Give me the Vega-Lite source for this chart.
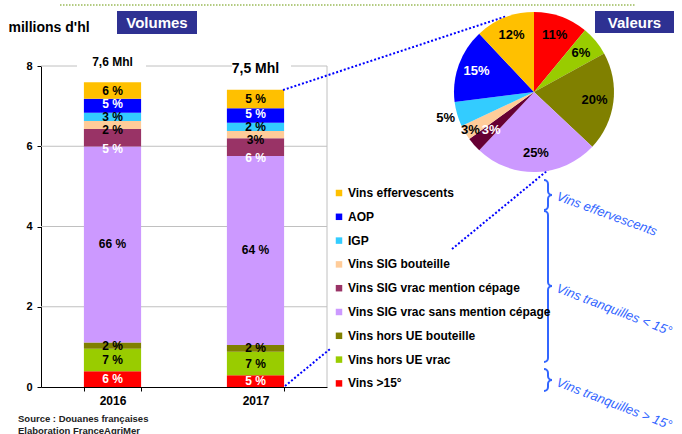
{
"$schema": "https://vega.github.io/schema/vega-lite/v6.json",
"width": 286, "height": 321,
"autosize": {"type": "none"},
"padding": {"left": 41, "top": 66, "right": 355, "bottom": 47},
"background": "white",
"config": {"font": "Liberation Sans", "view": {"stroke": null}},
"datasets": {
"vol": [
{"year":"2016","cat":"Vins >15°","rank":1,"value":0.39,"lab":"6 %"},
{"year":"2016","cat":"Vins hors UE vrac","rank":2,"value":0.565,"lab":"7 %"},
{"year":"2016","cat":"Vins hors UE bouteille","rank":3,"value":0.157,"lab":"2 %"},
{"year":"2016","cat":"Vins SIG vrac sans mention cépage","rank":4,"value":4.88,"lab":"66 %"},
{"year":"2016","cat":"Vins SIG vrac mention cépage","rank":5,"value":0.44,"lab":"5 %"},
{"year":"2016","cat":"Vins SIG bouteille","rank":6,"value":0.2,"lab":"2 %"},
{"year":"2016","cat":"IGP","rank":7,"value":0.2,"lab":"3 %"},
{"year":"2016","cat":"AOP","rank":8,"value":0.35,"lab":"5 %"},
{"year":"2016","cat":"Vins effervescents","rank":9,"value":0.41,"lab":"6 %"},
{"year":"2017","cat":"Vins >15°","rank":1,"value":0.29,"lab":"5 %"},
{"year":"2017","cat":"Vins hors UE vrac","rank":2,"value":0.59,"lab":"7 %"},
{"year":"2017","cat":"Vins hors UE bouteille","rank":3,"value":0.167,"lab":"2 %"},
{"year":"2017","cat":"Vins SIG vrac sans mention cépage","rank":4,"value":4.71,"lab":"64 %"},
{"year":"2017","cat":"Vins SIG vrac mention cépage","rank":5,"value":0.44,"lab":"6 %"},
{"year":"2017","cat":"Vins SIG bouteille","rank":6,"value":0.18,"lab":"3%"},
{"year":"2017","cat":"IGP","rank":7,"value":0.21,"lab":"2 %"},
{"year":"2017","cat":"AOP","rank":8,"value":0.36,"lab":"5 %"},
{"year":"2017","cat":"Vins effervescents","rank":9,"value":0.46,"lab":"5 %"}
],
"val": [
{"cat":"Vins >15°","rank":1,"value":11,"lab":"11%"},
{"cat":"Vins hors UE vrac","rank":2,"value":6,"lab":"6%"},
{"cat":"Vins hors UE bouteille","rank":3,"value":20,"lab":"20%"},
{"cat":"Vins SIG vrac sans mention cépage","rank":4,"value":25,"lab":"25%"},
{"cat":"Vins SIG vrac mention cépage","rank":5,"value":3,"lab":"3%"},
{"cat":"Vins SIG bouteille","rank":6,"value":3,"lab":"3%"},
{"cat":"IGP","rank":7,"value":5,"lab":"5%"},
{"cat":"AOP","rank":8,"value":15,"lab":"15%"},
{"cat":"Vins effervescents","rank":9,"value":12,"lab":"12%"}
]
},
"data": {"values": [{}]},
"resolve": {"scale": {"x": "independent", "y": "independent", "color": "independent", "theta": "independent"}},
"layer": [
{
"layer": [
{"mark": {"type": "rule", "color": "#c0c0c0", "strokeWidth": 1},
 "encoding": {"y": {"datum": 2, "type": "quantitative"}}},
{"mark": {"type": "rule", "color": "#c0c0c0", "strokeWidth": 1},
 "encoding": {"y": {"datum": 4, "type": "quantitative"}}},
{"mark": {"type": "rule", "color": "#c0c0c0", "strokeWidth": 1},
 "encoding": {"y": {"datum": 6, "type": "quantitative"}}},
{"data": {"name": "vol"}, "mark": {"type": "bar"},
 "encoding": {
  "x": {"field": "year", "type": "nominal", "scale": {"paddingInner": 0.6, "paddingOuter": 0.3},
        "axis": {"title": null, "labelAngle": 0, "labelFontSize": 12, "labelFontWeight": "bold", "labelColor": "#000", "labelPadding": 4, "domainColor": "#000", "tickColor": "#000", "tickSize": 4, "tickBand": "extent", "grid": false}},
  "y": {"field": "value", "type": "quantitative", "stack": "zero", "scale": {"domain": [0, 8], "nice": false},
        "axis": {"values": [0, 2, 4, 6, 8], "grid": false, "domainColor": "#000", "tickColor": "#000", "tickSize": 4, "labelFontSize": 11, "labelFontWeight": "bold", "labelColor": "#000", "labelPadding": 5,
                 "title": "millions d'hl", "titleAngle": 0, "titleAlign": "left", "titleBaseline": "middle", "titleX": -33, "titleY": -39, "titleFontSize": 14, "titleFontWeight": "bold", "titleColor": "#000"}},
  "color": {"field": "cat", "type": "nominal",
            "scale": {"domain": ["Vins effervescents","AOP","IGP","Vins SIG bouteille","Vins SIG vrac mention cépage","Vins SIG vrac sans mention cépage","Vins hors UE bouteille","Vins hors UE vrac","Vins >15°"],
                      "range": ["#FFC000","#0000FF","#33CCFF","#FFCC99","#993366","#CC99FF","#808000","#99CC00","#FF0000"]},
            "legend": {"orient": "none", "legendX": 292, "legendY": 121, "title": null, "symbolType": "square", "symbolSize": 42, "symbolStrokeWidth": 0, "symbolOpacity": 1, "labelFontSize": 12, "labelFontWeight": "bold", "labelColor": "#000", "labelLimit": 300, "labelOffset": 3, "rowPadding": 11.8, "padding": 0}},
  "order": {"field": "rank", "type": "quantitative"}
 }},
{"data": {"name": "vol"}, "mark": {"type": "text", "fontSize": 12, "fontWeight": "bold"},
 "encoding": {
  "x": {"field": "year", "type": "nominal"},
  "y": {"field": "value", "type": "quantitative", "stack": "zero", "bandPosition": 0.5},
  "detail": {"field": "cat"},
  "order": {"field": "rank", "type": "quantitative"},
  "text": {"condition": {"test": "datum.rank == 5 || datum.rank == 6 || datum.rank == 8", "value": ""}, "field": "lab"},
  "color": {"condition": {"test": "datum.rank == 1", "value": "white"}, "value": "black"}
 }},
{"data": {"name": "vol"}, "mark": {"type": "text", "fontSize": 12, "fontWeight": "bold", "dy": 5},
 "encoding": {
  "x": {"field": "year", "type": "nominal"},
  "y": {"field": "value", "type": "quantitative", "stack": "zero", "bandPosition": 0.5},
  "detail": {"field": "cat"},
  "order": {"field": "rank", "type": "quantitative"},
  "text": {"condition": {"test": "datum.rank != 6", "value": ""}, "field": "lab"},
  "color": {"value": "black"}
 }},
{"data": {"name": "vol"}, "mark": {"type": "text", "fontSize": 12, "fontWeight": "bold", "dy": 11},
 "encoding": {
  "x": {"field": "year", "type": "nominal"},
  "y": {"field": "value", "type": "quantitative", "stack": "zero", "bandPosition": 0.5},
  "detail": {"field": "cat"},
  "order": {"field": "rank", "type": "quantitative"},
  "text": {"condition": {"test": "datum.rank != 5", "value": ""}, "field": "lab"},
  "color": {"value": "white"}
 }},
{"data": {"name": "vol"}, "mark": {"type": "text", "fontSize": 12, "fontWeight": "bold", "dy": -1.5},
 "encoding": {
  "x": {"field": "year", "type": "nominal"},
  "y": {"field": "value", "type": "quantitative", "stack": "zero", "bandPosition": 0.5},
  "detail": {"field": "cat"},
  "order": {"field": "rank", "type": "quantitative"},
  "text": {"condition": {"test": "datum.rank != 8", "value": ""}, "field": "lab"},
  "color": {"value": "white"}
 }},
{"mark": {"type": "text", "fontSize": 12, "fontWeight": "bold", "color": "black"},
 "encoding": {"x": {"datum": "2016", "type": "nominal"}, "y": {"datum": 8.1, "type": "quantitative"}, "text": {"value": "7,6 Mhl"}}},
{"mark": {"type": "text", "fontSize": 14, "fontWeight": "bold", "color": "black"},
 "encoding": {"x": {"datum": "2017", "type": "nominal"}, "y": {"datum": 7.92, "type": "quantitative"}, "text": {"value": "7,5 Mhl"}}}
]
},
{
"layer": [
{"mark": {"type": "rule", "color": "#c0c0c0", "strokeWidth": 1},
 "encoding": {"x": {"datum": 327, "type": "quantitative", "scale": {"domain": [41, 327], "nice": false, "zero": false}, "axis": null},
              "y": {"datum": 66, "type": "quantitative", "scale": {"domain": [66, 387], "reverse": true, "nice": false, "zero": false}, "axis": null}, "y2": {"datum": 387}}},
{"mark": {"type": "rule", "color": "#c0c0c0", "strokeWidth": 1},
 "encoding": {"x": {"datum": 41, "type": "quantitative", "scale": {"domain": [41, 327], "nice": false, "zero": false}, "axis": null}, "x2": {"datum": 77},
              "y": {"datum": 66, "type": "quantitative", "scale": {"domain": [66, 387], "reverse": true, "nice": false, "zero": false}, "axis": null}}},
{"mark": {"type": "rule", "color": "#c0c0c0", "strokeWidth": 1},
 "encoding": {"x": {"datum": 146, "type": "quantitative", "scale": {"domain": [41, 327], "nice": false, "zero": false}, "axis": null}, "x2": {"datum": 232},
              "y": {"datum": 66, "type": "quantitative", "scale": {"domain": [66, 387], "reverse": true, "nice": false, "zero": false}, "axis": null}}},
{"mark": {"type": "rule", "color": "#c0c0c0", "strokeWidth": 1},
 "encoding": {"x": {"datum": 291, "type": "quantitative", "scale": {"domain": [41, 327], "nice": false, "zero": false}, "axis": null}, "x2": {"datum": 327},
              "y": {"datum": 66, "type": "quantitative", "scale": {"domain": [66, 387], "reverse": true, "nice": false, "zero": false}, "axis": null}}},
{"mark": {"type": "rule", "color": "#9BBB59", "strokeWidth": 1.5, "strokeDash": [1.5, 1.5]},
 "encoding": {"x": {"datum": 60, "type": "quantitative", "scale": {"domain": [41, 327], "nice": false, "zero": false}, "axis": null}, "x2": {"datum": 635},
              "y": {"datum": 5, "type": "quantitative", "scale": {"domain": [66, 387], "reverse": true, "nice": false, "zero": false}, "axis": null}}},
{"mark": {"type": "rule", "color": "#0000FF", "strokeWidth": 2, "strokeDash": [2, 2]},
 "encoding": {"x": {"datum": 283, "type": "quantitative", "scale": {"domain": [41, 327], "nice": false, "zero": false}, "axis": null}, "x2": {"datum": 507},
              "y": {"datum": 90, "type": "quantitative", "scale": {"domain": [66, 387], "reverse": true, "nice": false, "zero": false}, "axis": null}, "y2": {"datum": 16}}},
{"mark": {"type": "rule", "color": "#0000FF", "strokeWidth": 2, "strokeDash": [2, 2]},
 "encoding": {"x": {"datum": 285, "type": "quantitative", "scale": {"domain": [41, 327], "nice": false, "zero": false}, "axis": null}, "x2": {"datum": 330},
              "y": {"datum": 386, "type": "quantitative", "scale": {"domain": [66, 387], "reverse": true, "nice": false, "zero": false}, "axis": null}, "y2": {"datum": 349}}},
{"mark": {"type": "rule", "color": "#0000FF", "strokeWidth": 2, "strokeDash": [2, 2]},
 "encoding": {"x": {"datum": 452, "type": "quantitative", "scale": {"domain": [41, 327], "nice": false, "zero": false}, "axis": null}, "x2": {"datum": 548},
              "y": {"datum": 249, "type": "quantitative", "scale": {"domain": [66, 387], "reverse": true, "nice": false, "zero": false}, "axis": null}, "y2": {"datum": 170}}},
{"mark": {"type": "rect", "color": "#2E3192"},
 "encoding": {"x": {"datum": 117, "type": "quantitative", "scale": {"domain": [41, 327], "nice": false, "zero": false}, "axis": null}, "x2": {"datum": 197},
              "y": {"datum": 11, "type": "quantitative", "scale": {"domain": [66, 387], "reverse": true, "nice": false, "zero": false}, "axis": null}, "y2": {"datum": 34}}},
{"mark": {"type": "rect", "color": "#2E3192"},
 "encoding": {"x": {"datum": 595, "type": "quantitative", "scale": {"domain": [41, 327], "nice": false, "zero": false}, "axis": null}, "x2": {"datum": 674},
              "y": {"datum": 11, "type": "quantitative", "scale": {"domain": [66, 387], "reverse": true, "nice": false, "zero": false}, "axis": null}, "y2": {"datum": 33}}},
{"mark": {"type": "text", "color": "white", "fontSize": 15, "fontWeight": "bold"},
 "encoding": {"x": {"datum": 157, "type": "quantitative", "scale": {"domain": [41, 327], "nice": false, "zero": false}, "axis": null},
              "y": {"datum": 23, "type": "quantitative", "scale": {"domain": [66, 387], "reverse": true, "nice": false, "zero": false}, "axis": null}, "text": {"value": "Volumes"}}},
{"mark": {"type": "text", "color": "white", "fontSize": 15, "fontWeight": "bold"},
 "encoding": {"x": {"datum": 634.5, "type": "quantitative", "scale": {"domain": [41, 327], "nice": false, "zero": false}, "axis": null},
              "y": {"datum": 22.5, "type": "quantitative", "scale": {"domain": [66, 387], "reverse": true, "nice": false, "zero": false}, "axis": null}, "text": {"value": "Valeurs"}}},
{"mark": {"type": "text", "color": "#222", "fontSize": 9.5, "fontWeight": "bold", "align": "left"},
 "encoding": {"x": {"datum": 18, "type": "quantitative", "scale": {"domain": [41, 327], "nice": false, "zero": false}, "axis": null},
              "y": {"datum": 418.5, "type": "quantitative", "scale": {"domain": [66, 387], "reverse": true, "nice": false, "zero": false}, "axis": null}, "text": {"value": "Source : Douanes françaises"}}},
{"mark": {"type": "text", "color": "#222", "fontSize": 9.5, "fontWeight": "bold", "align": "left"},
 "encoding": {"x": {"datum": 18, "type": "quantitative", "scale": {"domain": [41, 327], "nice": false, "zero": false}, "axis": null},
              "y": {"datum": 430.5, "type": "quantitative", "scale": {"domain": [66, 387], "reverse": true, "nice": false, "zero": false}, "axis": null}, "text": {"value": "Elaboration FranceAgriMer"}}},
{"mark": {"type": "text", "color": "#3366FF", "fontSize": 13, "fontStyle": "italic", "align": "left", "angle": 20},
 "encoding": {"x": {"datum": 557, "type": "quantitative", "scale": {"domain": [41, 327], "nice": false, "zero": false}, "axis": null},
              "y": {"datum": 196, "type": "quantitative", "scale": {"domain": [66, 387], "reverse": true, "nice": false, "zero": false}, "axis": null}, "text": {"value": "Vins effervescents"}}},
{"mark": {"type": "text", "color": "#3366FF", "fontSize": 13, "fontStyle": "italic", "align": "left", "angle": 21},
 "encoding": {"x": {"datum": 557, "type": "quantitative", "scale": {"domain": [41, 327], "nice": false, "zero": false}, "axis": null},
              "y": {"datum": 288, "type": "quantitative", "scale": {"domain": [66, 387], "reverse": true, "nice": false, "zero": false}, "axis": null}, "text": {"value": "Vins tranquilles < 15°"}}},
{"mark": {"type": "text", "color": "#3366FF", "fontSize": 13, "fontStyle": "italic", "align": "left", "angle": 21},
 "encoding": {"x": {"datum": 557, "type": "quantitative", "scale": {"domain": [41, 327], "nice": false, "zero": false}, "axis": null},
              "y": {"datum": 382, "type": "quantitative", "scale": {"domain": [66, 387], "reverse": true, "nice": false, "zero": false}, "axis": null}, "text": {"value": "Vins tranquilles > 15°"}}},

{"mark": {"type": "arc", "color": "#3366FF", "innerRadius": 3, "outerRadius": 5, "theta": 0, "theta2": 1.5708},
 "encoding": {"x": {"datum": 544, "type": "quantitative", "scale": {"domain": [41, 327], "nice": false, "zero": false}, "axis": null},
              "y": {"datum": 184, "type": "quantitative", "scale": {"domain": [66, 387], "reverse": true, "nice": false, "zero": false}, "axis": null}}},
{"mark": {"type": "rule", "color": "#3366FF", "strokeWidth": 2},
 "encoding": {"x": {"datum": 548, "type": "quantitative", "scale": {"domain": [41, 327], "nice": false, "zero": false}, "axis": null},
              "y": {"datum": 184, "type": "quantitative", "scale": {"domain": [66, 387], "reverse": true, "nice": false, "zero": false}, "axis": null}, "y2": {"datum": 191}}},
{"mark": {"type": "arc", "color": "#3366FF", "innerRadius": 3, "outerRadius": 5, "theta": 3.1416, "theta2": 4.7124},
 "encoding": {"x": {"datum": 552, "type": "quantitative", "scale": {"domain": [41, 327], "nice": false, "zero": false}, "axis": null},
              "y": {"datum": 191, "type": "quantitative", "scale": {"domain": [66, 387], "reverse": true, "nice": false, "zero": false}, "axis": null}}},
{"mark": {"type": "arc", "color": "#3366FF", "innerRadius": 3, "outerRadius": 5, "theta": 4.7124, "theta2": 6.2832},
 "encoding": {"x": {"datum": 552, "type": "quantitative", "scale": {"domain": [41, 327], "nice": false, "zero": false}, "axis": null},
              "y": {"datum": 199, "type": "quantitative", "scale": {"domain": [66, 387], "reverse": true, "nice": false, "zero": false}, "axis": null}}},
{"mark": {"type": "rule", "color": "#3366FF", "strokeWidth": 2},
 "encoding": {"x": {"datum": 548, "type": "quantitative", "scale": {"domain": [41, 327], "nice": false, "zero": false}, "axis": null},
              "y": {"datum": 199, "type": "quantitative", "scale": {"domain": [66, 387], "reverse": true, "nice": false, "zero": false}, "axis": null}, "y2": {"datum": 206}}},
{"mark": {"type": "arc", "color": "#3366FF", "innerRadius": 3, "outerRadius": 5, "theta": 1.5708, "theta2": 3.1416},
 "encoding": {"x": {"datum": 544, "type": "quantitative", "scale": {"domain": [41, 327], "nice": false, "zero": false}, "axis": null},
              "y": {"datum": 206, "type": "quantitative", "scale": {"domain": [66, 387], "reverse": true, "nice": false, "zero": false}, "axis": null}}},

{"mark": {"type": "arc", "color": "#3366FF", "innerRadius": 3, "outerRadius": 5, "theta": 0, "theta2": 1.5708},
 "encoding": {"x": {"datum": 544, "type": "quantitative", "scale": {"domain": [41, 327], "nice": false, "zero": false}, "axis": null},
              "y": {"datum": 215, "type": "quantitative", "scale": {"domain": [66, 387], "reverse": true, "nice": false, "zero": false}, "axis": null}}},
{"mark": {"type": "rule", "color": "#3366FF", "strokeWidth": 2},
 "encoding": {"x": {"datum": 548, "type": "quantitative", "scale": {"domain": [41, 327], "nice": false, "zero": false}, "axis": null},
              "y": {"datum": 215, "type": "quantitative", "scale": {"domain": [66, 387], "reverse": true, "nice": false, "zero": false}, "axis": null}, "y2": {"datum": 282}}},
{"mark": {"type": "arc", "color": "#3366FF", "innerRadius": 3, "outerRadius": 5, "theta": 3.1416, "theta2": 4.7124},
 "encoding": {"x": {"datum": 552, "type": "quantitative", "scale": {"domain": [41, 327], "nice": false, "zero": false}, "axis": null},
              "y": {"datum": 282, "type": "quantitative", "scale": {"domain": [66, 387], "reverse": true, "nice": false, "zero": false}, "axis": null}}},
{"mark": {"type": "arc", "color": "#3366FF", "innerRadius": 3, "outerRadius": 5, "theta": 4.7124, "theta2": 6.2832},
 "encoding": {"x": {"datum": 552, "type": "quantitative", "scale": {"domain": [41, 327], "nice": false, "zero": false}, "axis": null},
              "y": {"datum": 290, "type": "quantitative", "scale": {"domain": [66, 387], "reverse": true, "nice": false, "zero": false}, "axis": null}}},
{"mark": {"type": "rule", "color": "#3366FF", "strokeWidth": 2},
 "encoding": {"x": {"datum": 548, "type": "quantitative", "scale": {"domain": [41, 327], "nice": false, "zero": false}, "axis": null},
              "y": {"datum": 290, "type": "quantitative", "scale": {"domain": [66, 387], "reverse": true, "nice": false, "zero": false}, "axis": null}, "y2": {"datum": 358}}},
{"mark": {"type": "arc", "color": "#3366FF", "innerRadius": 3, "outerRadius": 5, "theta": 1.5708, "theta2": 3.1416},
 "encoding": {"x": {"datum": 544, "type": "quantitative", "scale": {"domain": [41, 327], "nice": false, "zero": false}, "axis": null},
              "y": {"datum": 358, "type": "quantitative", "scale": {"domain": [66, 387], "reverse": true, "nice": false, "zero": false}, "axis": null}}},

{"mark": {"type": "arc", "color": "#3366FF", "innerRadius": 3, "outerRadius": 5, "theta": 0, "theta2": 1.5708},
 "encoding": {"x": {"datum": 544, "type": "quantitative", "scale": {"domain": [41, 327], "nice": false, "zero": false}, "axis": null},
              "y": {"datum": 373, "type": "quantitative", "scale": {"domain": [66, 387], "reverse": true, "nice": false, "zero": false}, "axis": null}}},
{"mark": {"type": "rule", "color": "#3366FF", "strokeWidth": 2},
 "encoding": {"x": {"datum": 548, "type": "quantitative", "scale": {"domain": [41, 327], "nice": false, "zero": false}, "axis": null},
              "y": {"datum": 373, "type": "quantitative", "scale": {"domain": [66, 387], "reverse": true, "nice": false, "zero": false}, "axis": null}, "y2": {"datum": 376}}},
{"mark": {"type": "arc", "color": "#3366FF", "innerRadius": 3, "outerRadius": 5, "theta": 3.1416, "theta2": 4.7124},
 "encoding": {"x": {"datum": 552, "type": "quantitative", "scale": {"domain": [41, 327], "nice": false, "zero": false}, "axis": null},
              "y": {"datum": 376, "type": "quantitative", "scale": {"domain": [66, 387], "reverse": true, "nice": false, "zero": false}, "axis": null}}},
{"mark": {"type": "arc", "color": "#3366FF", "innerRadius": 3, "outerRadius": 5, "theta": 4.7124, "theta2": 6.2832},
 "encoding": {"x": {"datum": 552, "type": "quantitative", "scale": {"domain": [41, 327], "nice": false, "zero": false}, "axis": null},
              "y": {"datum": 384, "type": "quantitative", "scale": {"domain": [66, 387], "reverse": true, "nice": false, "zero": false}, "axis": null}}},
{"mark": {"type": "rule", "color": "#3366FF", "strokeWidth": 2},
 "encoding": {"x": {"datum": 548, "type": "quantitative", "scale": {"domain": [41, 327], "nice": false, "zero": false}, "axis": null},
              "y": {"datum": 384, "type": "quantitative", "scale": {"domain": [66, 387], "reverse": true, "nice": false, "zero": false}, "axis": null}, "y2": {"datum": 387}}},
{"mark": {"type": "arc", "color": "#3366FF", "innerRadius": 3, "outerRadius": 5, "theta": 1.5708, "theta2": 3.1416},
 "encoding": {"x": {"datum": 544, "type": "quantitative", "scale": {"domain": [41, 327], "nice": false, "zero": false}, "axis": null},
              "y": {"datum": 387, "type": "quantitative", "scale": {"domain": [66, 387], "reverse": true, "nice": false, "zero": false}, "axis": null}}},

{
"data": {"name": "val"},
"encoding": {
  "x": {"datum": 534, "type": "quantitative", "scale": {"domain": [41, 327], "nice": false, "zero": false}, "axis": null},
  "y": {"datum": 92, "type": "quantitative", "scale": {"domain": [66, 387], "reverse": true, "nice": false, "zero": false}, "axis": null},
  "theta": {"field": "value", "type": "quantitative", "stack": true},
  "order": {"field": "rank", "type": "quantitative"}
},
"layer": [
{"mark": {"type": "arc", "outerRadius": 80},
 "encoding": {"color": {"field": "cat", "type": "nominal", "legend": null,
   "scale": {"domain": ["Vins effervescents","AOP","IGP","Vins SIG bouteille","Vins SIG vrac mention cépage","Vins SIG vrac sans mention cépage","Vins hors UE bouteille","Vins hors UE vrac","Vins >15°"],
             "range": ["#FFC000","#0000FF","#33CCFF","#FFCC99","#660033","#CC99FF","#808000","#99CC00","#FF0000"]}}}},
{"mark": {"type": "text", "radius": 61, "fontSize": 13, "fontWeight": "bold"},
 "encoding": {"detail": {"field": "cat"},
   "text": {"condition": {"test": "datum.rank >= 5 && datum.rank <= 7", "value": ""}, "field": "lab"},
   "color": {"condition": {"test": "datum.rank == 8", "value": "white"}, "value": "black"}}},
{"mark": {"type": "text", "radius": 57, "fontSize": 13, "fontWeight": "bold", "color": "white"},
 "encoding": {"theta": {"datum": 62.5, "type": "quantitative"},
   "text": {"condition": {"test": "datum.rank != 5", "value": ""}, "field": "lab"}}},
{"mark": {"type": "text", "radius": 74, "fontSize": 13, "fontWeight": "bold", "color": "black"},
 "encoding": {"theta": {"datum": 67.6, "type": "quantitative"},
   "text": {"condition": {"test": "datum.rank != 6", "value": ""}, "field": "lab"}}},
{"mark": {"type": "text", "radius": 92, "fontSize": 13, "fontWeight": "bold", "color": "black"},
 "encoding": {"theta": {"datum": 71.4, "type": "quantitative"},
   "text": {"condition": {"test": "datum.rank != 7", "value": ""}, "field": "lab"}}}
]
}
]
}
]
}
